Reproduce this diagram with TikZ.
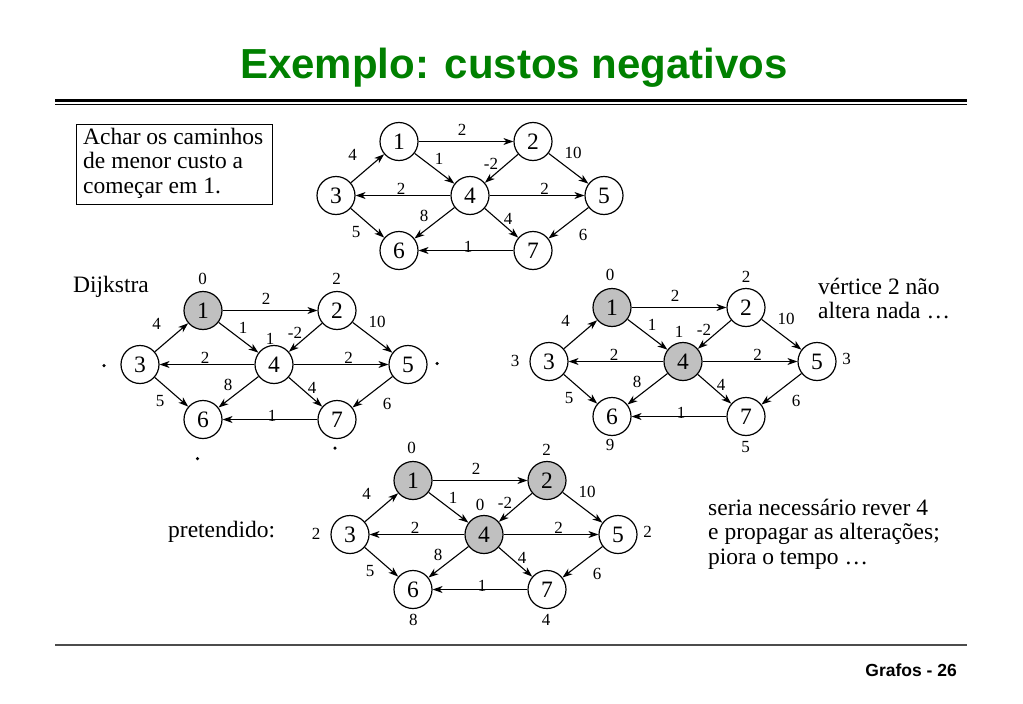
\documentclass[tikz,border=0pt]{standalone}
\usepackage{fontspec}
\setmainfont{Liberation Serif}
\setsansfont{Liberation Sans}
\usetikzlibrary{arrows.meta}
\definecolor{titlegreen}{RGB}{0,128,0}
\definecolor{nodegray}{RGB}{192,192,192}
\tikzset{
  vtx/.style={circle, draw, line width=1.2pt, minimum size=38pt, inner sep=0pt, fill=white, font=\fontsize{23.5}{23.5}\selectfont},
  vtxg/.style={vtx, fill=nodegray},
  edge/.style={line width=1.1pt, -{Stealth[length=10pt, width=7pt, inset=3pt]}},
  elab/.style={inner sep=0pt, font=\fontsize{17}{17}\selectfont},
  txt/.style={inner sep=0pt, anchor=west, align=left, font=\fontsize{23.5}{24.5}\selectfont},
  dot/.style={circle, fill=black, inner sep=0pt, minimum size=3.5pt},
}
\newcommand\drawgraph[6]{%
\begin{scope}[shift={(#2,#3)}]
  \node[#4] (#1-1) at (63,-54) {1};
  \node[#5] (#1-2) at (197,-54) {2};
  \node[vtx] (#1-3) at (0,0) {3};
  \node[#6] (#1-4) at (134,0) {4};
  \node[vtx] (#1-5) at (268,0) {5};
  \node[vtx] (#1-6) at (63,55) {6};
  \node[vtx] (#1-7) at (197,55) {7};
  \draw[edge] (#1-1) -- (#1-2);
  \draw[edge] (#1-3) -- (#1-1);
  \draw[edge] (#1-1) -- (#1-4);
  \draw[edge] (#1-2) -- (#1-4);
  \draw[edge] (#1-2) -- (#1-5);
  \draw[edge] (#1-4) -- (#1-3);
  \draw[edge] (#1-4) -- (#1-5);
  \draw[edge] (#1-4) -- (#1-6);
  \draw[edge] (#1-4) -- (#1-7);
  \draw[edge] (#1-3) -- (#1-6);
  \draw[edge] (#1-5) -- (#1-7);
  \draw[edge] (#1-7) -- (#1-6);
  \node[elab] (#1-l12) at (126,-65.5) {2};
  \node[elab] (#1-l31) at (16.5,-41) {4};
  \node[elab] (#1-l14) at (103,-37) {1};
  \node[elab] (#1-l24) at (155,-32) {-2};
  \node[elab] (#1-l25) at (237,-43) {10};
  \node[elab] (#1-l43) at (65,-7) {2};
  \node[elab] (#1-l45) at (208.5,-7) {2};
  \node[elab] (#1-l46) at (88,20) {8};
  \node[elab] (#1-l47) at (172,23) {4};
  \node[elab] (#1-l36) at (20,36.5) {5};
  \node[elab] (#1-l57) at (247,39.5) {6};
  \node[elab] (#1-l76) at (132,51) {1};
\end{scope}}
\begin{document}
\begin{tikzpicture}[x=1pt, y=-1pt]
\useasboundingbox (0,0) rectangle (1023,704);
% title
\node[inner sep=0pt, text=titlegreen, font=\fontsize{42}{42}\selectfont\sffamily\bfseries] (title) at (514,68) {Exemplo: custos negativos};
\draw[line width=2.8pt] (55,100.6) -- (967,100.6);
\draw[line width=1.2pt] (55,104.2) -- (967,104.2);
% footer
\draw[line width=1.5pt, black!70] (55,645) -- (967,645);
\node[inner sep=0pt, anchor=base east, font=\fontsize{17.5}{17.5}\selectfont\sffamily\bfseries] (foot) at (957,676) {Grafos - 26};
% box
\node[draw, line width=1.2pt, anchor=north west, minimum width=196pt, minimum height=80pt, inner sep=0pt] (box) at (76,124) {};
\node[txt] (boxtxt) at (83,163) {Achar os caminhos\\de menor custo a\\começar em 1.};
% graphs
\drawgraph{t}{336}{195.5}{vtx}{vtx}{vtx}
\drawgraph{l}{140}{364.5}{vtxg}{vtx}{vtx}
\drawgraph{r}{549}{361.5}{vtxg}{vtx}{vtxg}
\drawgraph{b}{350}{534.5}{vtxg}{vtxg}{vtxg}
% left graph extras
\node[txt] (dijk) at (73,287) {Dijkstra};
\node[elab] (l-d1) at (202.7,279) {0};
\node[elab] (l-d2) at (336.7,279) {2};
\node[elab] (l-d4) at (270,339) {1};
\node[dot] (l-d3) at (104,365.5) {};
\node[dot] (l-d5) at (437,363.5) {};
\node[dot] (l-d6) at (197.5,458.5) {};
\node[dot] (l-d7) at (335,448) {};
% right graph extras
\node[txt] (vert) at (818,298.5) {vértice 2 não\\altera nada …};
\node[elab] (r-d1) at (610,275.3) {0};
\node[elab] (r-d2) at (746,277) {2};
\node[elab] (r-d4) at (679,332) {1};
\node[elab] (r-d3) at (515,361.3) {3};
\node[elab] (r-d5) at (846.7,358.7) {3};
\node[elab] (r-d6) at (610,444.7) {9};
\node[elab] (r-d7) at (745.7,447) {5};
% bottom graph extras
\node[txt] (pret) at (168,532) {pretendido:};
\node[txt] (seria) at (708,534) {seria necessário rever 4\\e propagar as alterações;\\piora o tempo …};
\node[elab] (b-d1) at (411.7,448.3) {0};
\node[elab] (b-d2) at (546.7,450) {2};
\node[elab] (b-d4) at (480,505) {0};
\node[elab] (b-d3) at (316,534.3) {2};
\node[elab] (b-d5) at (647.7,531.7) {2};
\node[elab] (b-d6) at (413.3,620) {8};
\node[elab] (b-d7) at (546,620) {4};
\end{tikzpicture}
\end{document}
